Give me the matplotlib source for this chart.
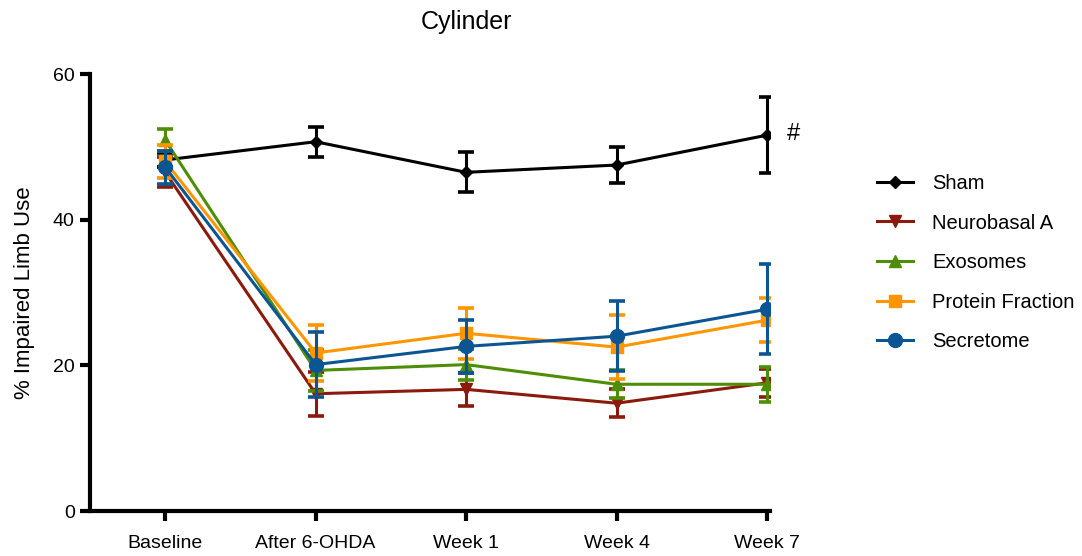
import matplotlib
matplotlib.use('Agg')
import numpy as np
import matplotlib.pyplot as plt

plt.rcParams['font.family'] = ['Liberation Sans', 'DejaVu Sans']

timepoints = ['Baseline', 'After 6-OHDA', 'Week 1', 'Week 4', 'Week 7']
groups = ['Sham', 'Neurobasal A', 'Exosomes', 'Protein Fraction', 'Secretome']

sham_mean = [48.2, 50.7, 46.5, 47.5, 51.6]
sham_sem = [1.0, 2.05, 2.75, 2.5, 5.2]
neuro_mean = [46.5, 16.1, 16.7, 14.8, 17.6]
neuro_sem = [2.05, 3.0, 2.3, 1.95, 1.9]
exo_mean = [50.9, 19.3, 20.1, 17.4, 17.4]
exo_sem = [1.5, 2.8, 2.1, 1.9, 2.4]
prot_mean = [48.0, 21.7, 24.4, 22.5, 26.2]
prot_sem = [2.25, 3.85, 3.5, 4.4, 3.0]
secr_mean = [47.2, 20.1, 22.6, 24.0, 27.7]
secr_sem = [2.25, 4.45, 3.6, 4.8, 6.2]

means = [sham_mean, neuro_mean, exo_mean, prot_mean, secr_mean]
sems = [sham_sem, neuro_sem, exo_sem, prot_sem, secr_sem]
colors = ['#000000', '#8c1a0c', '#4e8e06', '#ff9600', '#0b5593']
markers = ['D', 'v', '^', 's', 'o']
msizes = [6, 9, 9, 9, 10]

fig = plt.figure(figsize=(10.82, 5.56), dpi=100)
ax = fig.add_axes([90 / 1082, 45 / 556, 680 / 1082, 437 / 556])

x = np.arange(len(timepoints))
handles = []
for i in range(len(groups)):
    ax.errorbar(x, means[i], yerr=sems[i], fmt='none', ecolor=colors[i],
                elinewidth=2.2, capsize=6, capthick=2.6, zorder=2 + i)
    h, = ax.plot(x, means[i], color=colors[i], lw=2.2, marker=markers[i],
                 markersize=msizes[i], markeredgecolor=colors[i],
                 label=groups[i], zorder=2 + i)
    handles.append(h)

ax.set_xlim(-0.5, 4.02)
ax.set_ylim(0, 60)
ax.set_xticks(x)
ax.set_xticklabels(timepoints)
ax.set_yticks([0, 20, 40, 60])
for s in ['top', 'right']:
    ax.spines[s].set_visible(False)
for s in ['left', 'bottom']:
    ax.spines[s].set_linewidth(3)
    ax.spines[s].set_capstyle('projecting')
ax.tick_params(axis='both', width=3, length=7, labelsize=14, pad=4)
ax.tick_params(axis='x', pad=10)

ax.set_ylabel('% Impaired Limb Use', fontsize=16, labelpad=13)
fig.text(466 / 1082, 1 - 22 / 556, 'Cylinder', fontsize=18,
         ha='center', va='center')
ax.text(4.13, 51.8, '#', fontsize=17, va='center', ha='left')

fig.legend(handles=handles, loc='upper left', frameon=False,
           bbox_to_anchor=(877 / 1082, 1 - 174 / 556), borderpad=0,
           borderaxespad=0, fontsize=14.5, handlelength=1.8,
           handletextpad=0.95, labelspacing=1.02)

fig.savefig('out.png', dpi=100)
